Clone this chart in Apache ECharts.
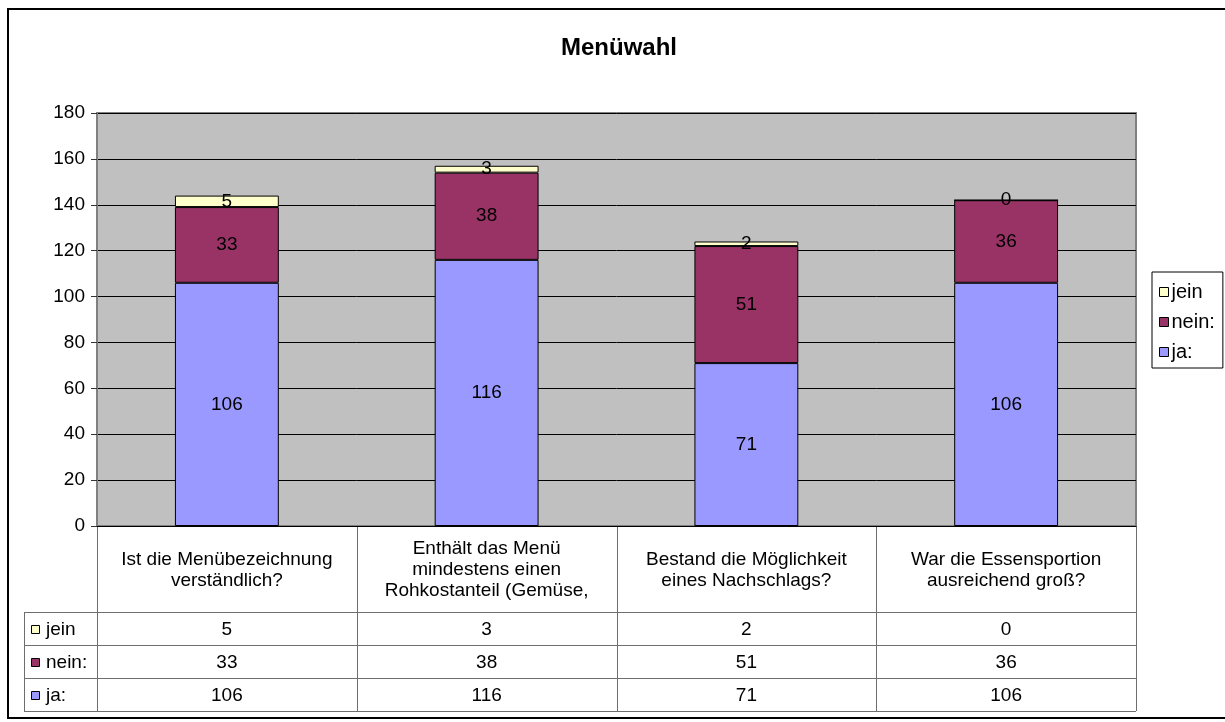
<!DOCTYPE html>
<html>
<head>
<meta charset="utf-8">
<title>Menüwahl</title>
<script src="https://cdn.jsdelivr.net/npm/echarts@6/dist/echarts.min.js"></script>
<style>
  html, body { margin: 0; padding: 0; background: #fff; }
  #chart { width: 1225px; height: 722px; }
</style>
</head>
<body>
<div id="chart"></div>
<script>
// data
const categories = [
  "Ist die Menübezeichnung\nverständlich?",
  "Enthält das Menü\nmindestens einen\nRohkostanteil (Gemüse,",
  "Bestand die Möglichkeit\neines Nachschlags?",
  "War die Essensportion\nausreichend groß?",
];
const seriesNames = ["jein", "nein:", "ja:"];
const jeinValues = [5, 3, 2, 0];
const neinValues = [33, 38, 51, 36];
const jaValues = [106, 116, 71, 106];
const yTicks = { min: 0, max: 180, interval: 20 };

const FONT = "'Liberation Sans', Arial, sans-serif";
const COLORS = { "jein": "#FFFFCC", "nein:": "#993366", "ja:": "#9999FF" };

// layout
const GRID = { left: 97, top: 113, right: 1136, bottom: 526 };
const TABLE_LEFT = 24;
const ROW_TOP = 612;
const ROW_H = 33;

const myChart = echarts.init(document.getElementById("chart"), null, {
  width: 1225,
  height: 722,
});

// data table under the plot
const colW = (GRID.right - GRID.left) / categories.length;
const tableRows = [
  { name: "jein", values: jeinValues },
  { name: "nein:", values: neinValues },
  { name: "ja:", values: jaValues },
];
const tableBottom = ROW_TOP + tableRows.length * ROW_H;
const lineStyle = { stroke: "#6e6e6e", lineWidth: 1 };
const graphics = [];

// outer frame
graphics.push({
  type: "rect",
  silent: true,
  shape: { x: 8, y: 9, width: 1240, height: 709 },
  style: { fill: "none", stroke: "#000", lineWidth: 2 },
});

for (let i = 0; i <= categories.length; i++) {
  const x = Math.round(GRID.left + i * colW) + 0.5;
  graphics.push({
    type: "line",
    silent: true,
    shape: { x1: x, y1: GRID.bottom, x2: x, y2: tableBottom },
    style: lineStyle,
  });
}
graphics.push({
  type: "line",
  silent: true,
  shape: { x1: TABLE_LEFT + 0.5, y1: ROW_TOP, x2: TABLE_LEFT + 0.5, y2: tableBottom },
  style: lineStyle,
});
for (let r = 0; r <= tableRows.length; r++) {
  const y = ROW_TOP + r * ROW_H + 0.5;
  graphics.push({
    type: "line",
    silent: true,
    shape: { x1: TABLE_LEFT, y1: y, x2: GRID.right, y2: y },
    style: lineStyle,
  });
}

categories.forEach((c, i) => {
  graphics.push({
    type: "text",
    silent: true,
    style: {
      x: GRID.left + (i + 0.5) * colW,
      y: (GRID.bottom + ROW_TOP) / 2 + 1,
      text: c,
      font: "19px " + FONT,
      lineHeight: 21,
      fill: "#000",
      textAlign: "center",
      textVerticalAlign: "middle",
    },
  });
});

tableRows.forEach((row, r) => {
  const cy = ROW_TOP + (r + 0.5) * ROW_H;
  graphics.push({
    type: "rect",
    silent: true,
    shape: { x: 31.5, y: Math.round(cy) - 3.5, width: 8, height: 8 },
    style: { fill: COLORS[row.name], stroke: "#000", lineWidth: 1 },
  });
  graphics.push({
    type: "text",
    silent: true,
    style: {
      x: 46,
      y: cy + 1,
      text: row.name,
      font: "19px " + FONT,
      fill: "#000",
      textAlign: "left",
      textVerticalAlign: "middle",
    },
  });
  row.values.forEach((v, i) => {
    graphics.push({
      type: "text",
      silent: true,
      style: {
        x: GRID.left + (i + 0.5) * colW,
        y: cy + 1,
        text: String(v),
        font: "19px " + FONT,
        fill: "#000",
        textAlign: "center",
        textVerticalAlign: "middle",
      },
    });
  });
});

const labelOption = {
  show: true,
  position: "inside",
  color: "#000",
  fontSize: 19,
  fontFamily: FONT,
};

function barSeries(name, data) {
  return {
    name: name,
    type: "bar",
    stack: "total",
    barWidth: "40%",
    data: data,
    label: labelOption,
    itemStyle: { color: COLORS[name], borderColor: "#000", borderWidth: 1 },
    emphasis: { disabled: true },
  };
}

myChart.setOption({
  animation: false,
  backgroundColor: "#fff",
  textStyle: { fontFamily: FONT },
  title: {
    text: "Menüwahl",
    left: 561,
    top: 36,
    padding: 0,
    textStyle: { fontSize: 24, fontWeight: "bold", color: "#000", fontFamily: FONT },
  },
  legend: {
    data: seriesNames,
    orient: "vertical",
    left: 1152,
    top: 272,
    padding: [10, 8, 6, 7],
    itemGap: 10,
    itemWidth: 9,
    itemHeight: 9,
    icon: "rect",
    borderColor: "#000",
    borderWidth: 1,
    itemStyle: { borderColor: "#000", borderWidth: 1 },
    textStyle: { fontSize: 20, lineHeight: 20, color: "#000", fontFamily: FONT, padding: [0, 0, 0, -2] },
  },
  grid: {
    left: GRID.left,
    top: GRID.top,
    width: GRID.right - GRID.left,
    height: GRID.bottom - GRID.top,
    show: true,
    backgroundColor: "#C0C0C0",
    borderColor: "#808080",
    borderWidth: 2,
    containLabel: false,
  },
  xAxis: {
    type: "category",
    data: categories,
    axisLabel: { show: false },
    axisTick: { show: false },
    axisLine: { show: true, lineStyle: { color: "#000", width: 1 } },
  },
  yAxis: {
    type: "value",
    min: yTicks.min,
    max: yTicks.max,
    interval: yTicks.interval,
    axisLine: { show: true, lineStyle: { color: "#808080", width: 2 } },
    axisTick: { show: true, length: 6, lineStyle: { color: "#333" } },
    axisLabel: { color: "#000", fontSize: 19, margin: 12, fontFamily: FONT },
    splitLine: { show: true, lineStyle: { color: "#000", width: 1 } },
  },
  series: [
    barSeries("ja:", jaValues),
    barSeries("nein:", neinValues),
    barSeries("jein", jeinValues),
  ],
  graphic: graphics,
});
</script>
</body>
</html>
